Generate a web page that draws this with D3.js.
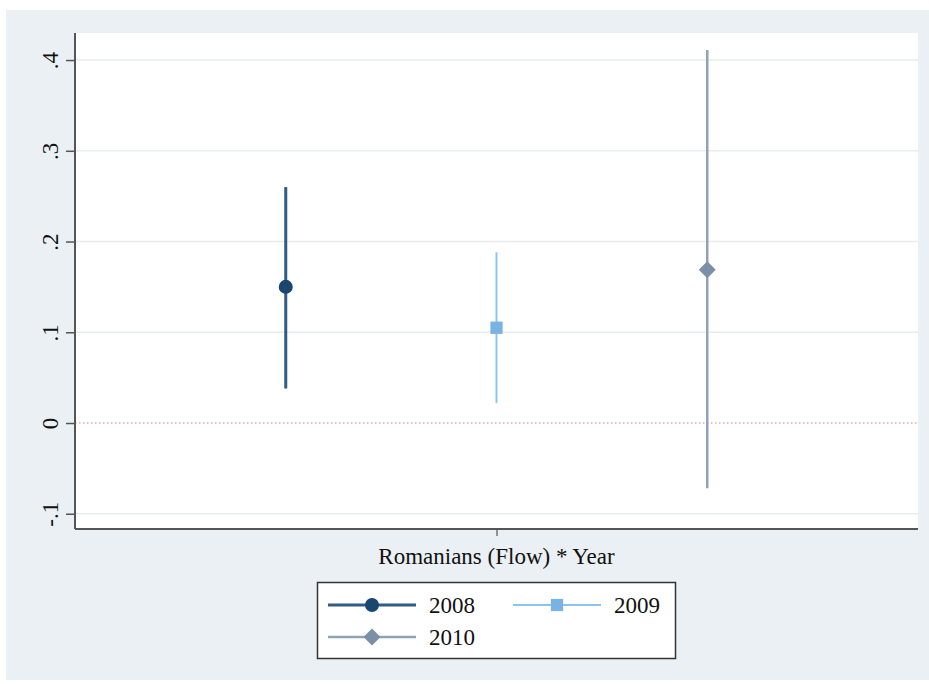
<!DOCTYPE html>
<html><head><meta charset="utf-8">
<script src="https://cdn.jsdelivr.net/npm/d3@7/dist/d3.min.js"></script>
<style>body{margin:0;background:#fff}svg{display:block}</style>
</head><body><svg id="c" width="929" height="684"></svg>
<script>
const years = ["2008","2009","2010"];
const estimates = [0.150, 0.105, 0.169];
const ciLow = [0.038, 0.022, -0.072];
const ciHigh = [0.260, 0.188, 0.411];
const yTicks = [-0.1, 0, 0.1, 0.2, 0.3, 0.4];
const yTickLabels = ["-.1","0",".1",".2",".3",".4"];
const xLabel = "Romanians (Flow) * Year";
const lineColors = ["#2f5b86","#8ec3ea","#8fa3b8"];
const markColors = ["#1a4670","#78b4e3","#7b90a8"];
const markShapes = [d3.symbolCircle, d3.symbolSquare, d3.symbolSquare];
const markRot = [0, 0, 45];
const markSizes = [155, 150, 145];

const svg = d3.select("#c");
const L=75, R=918, T=33, B=529;
svg.append("rect").attr("x",6).attr("y",10).attr("width",923).attr("height",670).attr("fill","#eaf0f3");
svg.append("rect").attr("x",L).attr("y",T).attr("width",R-L).attr("height",B-T).attr("fill","#ffffff");

const y = d3.scaleLinear().domain([-0.1168,0.4298]).range([B,T]);
const x = d3.scaleLinear().domain([0,4]).range([L,R]);

// gridlines
svg.append("g").selectAll("line").data(yTicks.filter(d=>d!==0)).join("line")
  .attr("x1",L).attr("x2",R).attr("y1",d=>y(d)).attr("y2",d=>y(d))
  .attr("stroke","#e9ecee").attr("stroke-width",1.5);
// zero line
svg.append("line").attr("x1",L).attr("x2",R).attr("y1",y(0)).attr("y2",y(0))
  .attr("stroke","#d9868a").attr("stroke-width",1.2).attr("stroke-dasharray","1.5,2.5");

// y axis
const yAxis = d3.axisLeft(y).tickValues(yTicks).tickFormat((d,i)=>yTickLabels[i]).tickSize(9).tickSizeOuter(0);
const gy = svg.append("g").attr("transform",`translate(${L},0)`).call(yAxis);
gy.select(".domain").attr("stroke","#555").attr("stroke-width",2).attr("d",`M0,${T}V${B}`);
gy.selectAll(".tick line").attr("stroke","#555").attr("stroke-width",1.5);
gy.selectAll(".tick text").attr("font-family","Liberation Serif, serif").attr("font-size",23).attr("fill","#111")
  .attr("text-anchor","middle").attr("dy",0).attr("x",0).attr("y",0)
  .attr("transform","translate(-17,0) rotate(-90)");

// x axis
const xAxis = d3.axisBottom(x).tickValues([2]).tickFormat("").tickSize(7).tickSizeOuter(0);
const gx = svg.append("g").attr("transform",`translate(0,${B})`).call(xAxis);
gx.select(".domain").attr("stroke","#555").attr("stroke-width",2).attr("d",`M${L},0H${R}`);
gx.selectAll(".tick line").attr("stroke","#555").attr("stroke-width",1.2);
svg.append("text").attr("x",x(2)).attr("y",564).attr("text-anchor","middle")
  .attr("font-family","Liberation Serif, serif").attr("font-size",23).attr("fill","#111").text(xLabel);

// CIs and points
const widths=[3,2,2.5];
years.forEach((yr,i)=>{
  svg.append("line").attr("x1",x(i+1)).attr("x2",x(i+1)).attr("y1",y(ciLow[i])).attr("y2",y(ciHigh[i]))
    .attr("stroke",lineColors[i]).attr("stroke-width",widths[i]);
  svg.append("path").attr("d",d3.symbol().type(markShapes[i]).size(markSizes[i])())
    .attr("transform",`translate(${x(i+1)},${y(estimates[i])}) rotate(${markRot[i]})`).attr("fill",markColors[i]);
});

// legend
const lg = svg.append("g");
lg.append("rect").attr("x",317.5).attr("y",582.5).attr("width",358).attr("height",76)
  .attr("fill","#fff").attr("stroke","#333").attr("stroke-width",1.5);
const pos = [[328,605],[513,605],[328,637]];
years.forEach((yr,i)=>{
  const [lx,ly]=pos[i];
  lg.append("line").attr("x1",lx).attr("x2",lx+88).attr("y1",ly).attr("y2",ly)
    .attr("stroke",lineColors[i]).attr("stroke-width",widths[i]);
  lg.append("path").attr("d",d3.symbol().type(markShapes[i]).size(markSizes[i])())
    .attr("transform",`translate(${lx+44},${ly}) rotate(${markRot[i]})`).attr("fill",markColors[i]);
  lg.append("text").attr("x",lx+101).attr("y",ly+8).attr("font-family","Liberation Serif, serif")
    .attr("font-size",23).attr("fill","#111").text(yr);
});
</script></body></html>
